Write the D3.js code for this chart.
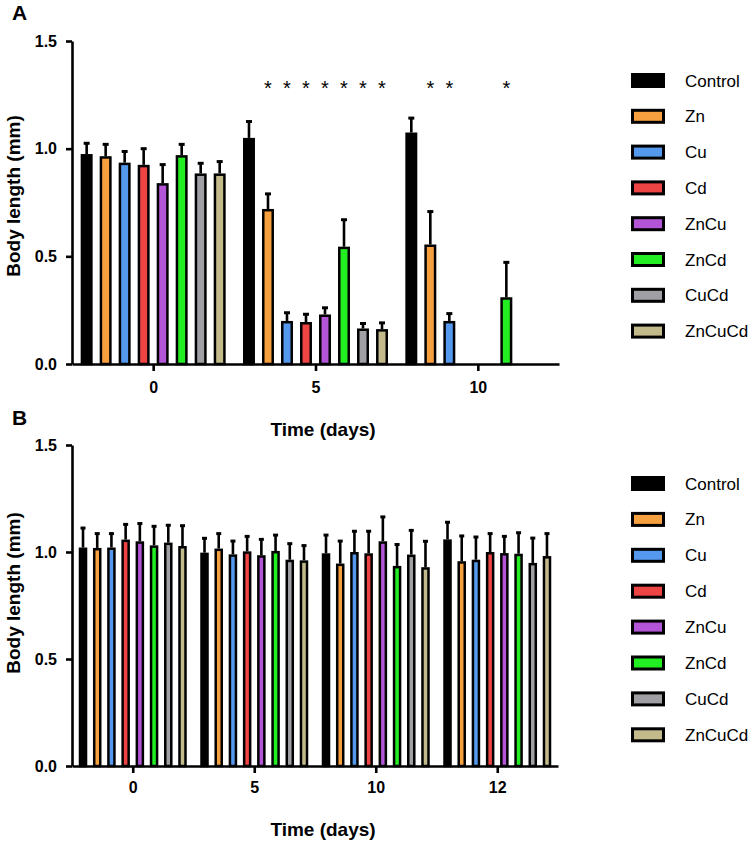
<!DOCTYPE html>
<html>
<head>
<meta charset="utf-8">
<script src="https://cdn.jsdelivr.net/npm/d3@7"></script>
<style>
  body { margin: 0; background: #fff; }
  svg { font-family: "Liberation Sans", Arial, sans-serif; }
</style>
</head>
<body>
<svg id="chart" width="750" height="845"></svg>
<script>
// groups and colours
var series = ["Control", "Zn", "Cu", "Cd", "ZnCu", "ZnCd", "CuCd", "ZnCuCd"];
var colors = ["#000000", "#F7A040", "#5599EE", "#EE4444", "#B355D6", "#22EE22", "#A0A0A4", "#C3BA8C"];
var yTicks = [0, 0.5, 1.0, 1.5];

// panel A: mean and upper SD per day (rows) and group (columns)
var daysA = ["0", "5", "10"];
var meanA = [
    [0.975, 0.965, 0.935, 0.925, 0.84, 0.97, 0.885, 0.885],
    [1.05, 0.72, 0.20, 0.195, 0.23, 0.545, 0.165, 0.162],
    [1.075, 0.555, 0.20, null, null, 0.31, null, null]
];
var errA = [
    [0.05, 0.055, 0.052, 0.075, 0.086, 0.05, 0.047, 0.055],
    [0.076, 0.07, 0.038, 0.036, 0.031, 0.125, 0.023, 0.029],
    [0.067, 0.153, 0.034, null, null, 0.162, null, null]
];
// significance marks (day, group)
var starDays = ["5", "5", "5", "5", "5", "5", "5", "10", "10", "10"];
var starGroups = ["Zn", "Cu", "Cd", "ZnCu", "ZnCd", "CuCd", "ZnCuCd", "Zn", "Cu", "ZnCd"];

// panel B
var daysB = ["0", "5", "10", "12"];
var meanB = [
    [1.021, 1.019, 1.021, 1.058, 1.05, 1.031, 1.044, 1.028],
    [0.997, 1.016, 0.989, 1.003, 0.985, 1.005, 0.964, 0.961],
    [0.994, 0.946, 1.0, 0.994, 1.05, 0.935, 0.988, 0.929],
    [1.059, 0.957, 0.964, 1.0, 0.995, 0.992, 0.949, 0.981]
];
var errB = [
    [0.091, 0.067, 0.065, 0.071, 0.083, 0.089, 0.081, 0.095],
    [0.067, 0.07, 0.062, 0.07, 0.074, 0.074, 0.075, 0.069],
    [0.085, 0.105, 0.097, 0.103, 0.114, 0.1, 0.113, 0.121],
    [0.08, 0.118, 0.106, 0.086, 0.078, 0.098, 0.116, 0.105]
];

var svg = d3.select('#chart');
var color = d3.scaleOrdinal().domain(series).range(colors);

function drawPanel(opt) {
    var g = svg.append('g');

    var y = d3.scaleLinear().domain([0, 1.5]).range([opt.bottom, opt.top]);
    var x = d3.scalePoint().domain(opt.days).range([opt.left, opt.right]).padding(0.5);
    var inner = d3.scaleBand().domain(series)
        .range([-opt.groupWidth / 2, opt.groupWidth / 2])
        .paddingInner(opt.barPad);
    var bw = inner.bandwidth();
    var sw = opt.barStroke;

    var rows = [];
    opt.days.forEach(function (day, i) {
        series.forEach(function (s, j) {
            if (opt.mean[i][j] === null) return;
            rows.push({ day: day, group: s, mean: opt.mean[i][j], err: opt.err[i][j] });
        });
    });

    var bars = g.selectAll('g.bar')
        .data(rows)
        .enter()
        .append('g')
        .attr('class', 'bar')
        .attr('transform', function (d) {
            return 'translate(' + (x(d.day) + inner(d.group)) + ',0)';
        });

    // error bars (upper only)
    bars.append('line')
        .attr('x1', bw / 2).attr('x2', bw / 2)
        .attr('y1', function (d) { return y(d.mean); })
        .attr('y2', function (d) { return y(d.mean + d.err); })
        .attr('stroke', '#000')
        .attr('stroke-width', opt.errStroke);
    bars.append('line')
        .attr('x1', bw / 2 - opt.capW / 2).attr('x2', bw / 2 + opt.capW / 2)
        .attr('y1', function (d) { return y(d.mean + d.err); })
        .attr('y2', function (d) { return y(d.mean + d.err); })
        .attr('stroke', '#000')
        .attr('stroke-width', 3);

    bars.append('rect')
        .attr('x', sw / 2)
        .attr('width', bw - sw)
        .attr('y', function (d) { return y(d.mean) + sw / 2; })
        .attr('height', function (d) { return y(0) - y(d.mean) - sw / 2; })
        .attr('fill', function (d) { return color(d.group); })
        .attr('stroke', '#000')
        .attr('stroke-width', sw);

    // axes
    var yAxis = g.append('g')
        .attr('transform', 'translate(' + opt.left + ',0)')
        .call(d3.axisLeft(y).tickValues(yTicks).tickFormat(d3.format('.1f'))
            .tickSize(6).tickSizeOuter(0).tickPadding(9));
    var xAxis = g.append('g')
        .attr('transform', 'translate(0,' + opt.bottom + ')')
        .call(d3.axisBottom(x).tickSize(7).tickSizeOuter(0).tickPadding(opt.xPad));
    [yAxis, xAxis].forEach(function (a) {
        a.select('.domain').attr('stroke-width', 2.6);
        a.selectAll('.tick line').attr('stroke-width', 2.6);
        a.selectAll('.tick text')
            .attr('font-family', '"Liberation Sans", Arial, sans-serif')
            .attr('font-size', 16)
            .attr('font-weight', 'bold')
            .attr('fill', '#000');
    });

    g.append('text')
        .attr('transform', 'translate(13,' + opt.yTitleY + ') rotate(-90)')
        .attr('text-anchor', 'middle')
        .attr('dominant-baseline', 'central')
        .attr('font-size', 19)
        .attr('font-weight', 'bold')
        .text('Body length (mm)');

    g.append('text')
        .attr('x', 323)
        .attr('y', opt.xTitleY)
        .attr('text-anchor', 'middle')
        .attr('font-size', 19)
        .attr('font-weight', 'bold')
        .text('Time (days)');

    g.append('text')
        .attr('x', 12)
        .attr('y', opt.labelY)
        .attr('font-size', 21)
        .attr('font-weight', 'bold')
        .text(opt.label);

    // legend
    var leg = g.selectAll('g.leg')
        .data(series)
        .enter()
        .append('g')
        .attr('class', 'leg')
        .attr('transform', function (d, i) {
            return 'translate(631,' + (opt.legendTop + i * opt.legendStep) + ')';
        });
    leg.append('rect')
        .attr('x', 1.5).attr('y', -6.5)
        .attr('width', 31).attr('height', 12)
        .attr('fill', function (d) { return color(d); })
        .attr('stroke', '#000')
        .attr('stroke-width', 3);
    leg.append('text')
        .attr('x', 54)
        .attr('dominant-baseline', 'central')
        .attr('font-size', 17)
        .text(function (d) { return d; });

    return { x: x, y: y, inner: inner, g: g };
}

var pA = drawPanel({
    days: daysA, mean: meanA, err: errA,
    left: 72, right: 559, top: 41, bottom: 364,
    groupWidth: 145, barPad: 0.37, barStroke: 2.5, errStroke: 2.6, capW: 6,
    xPad: 11, yTitleY: 196, xTitleY: 436, label: 'A', labelY: 20,
    legendTop: 81, legendStep: 35.8
});

pA.g.selectAll('text.star')
    .data(starDays)
    .enter()
    .append('text')
    .attr('class', 'star')
    .attr('x', function (d, i) {
        return pA.x(d) + pA.inner(starGroups[i]) + pA.inner.bandwidth() / 2;
    })
    .attr('y', pA.y(1.3) + 11)
    .attr('text-anchor', 'middle')
    .attr('font-size', 20)
    .text('*');

drawPanel({
    days: daysB, mean: meanB, err: errB,
    left: 72, right: 558, top: 445, bottom: 766,
    groupWidth: 108, barPad: 0.4, barStroke: 2.5, errStroke: 2.6, capW: 5,
    xPad: 9, yTitleY: 593, xTitleY: 836, label: 'B', labelY: 425,
    legendTop: 484, legendStep: 35.9
});
</script>
</body>
</html>
